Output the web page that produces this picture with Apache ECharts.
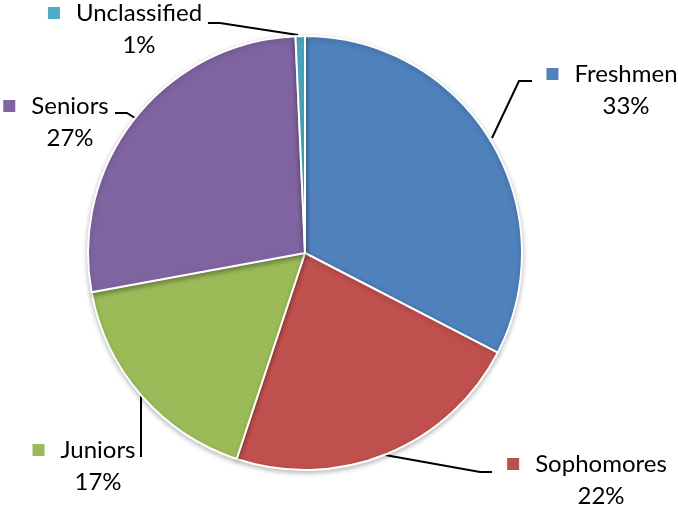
<!DOCTYPE html>
<html>
<head>
<meta charset="utf-8">
<script src="https://cdn.jsdelivr.net/npm/echarts@6/dist/echarts.min.js"></script>
<style>
html,body{margin:0;padding:0;background:#fff;}
#chart{width:678px;height:506px;}
</style>
</head>
<body>
<div id="chart"></div>
<script>
// ---- data ----
var categories = ['Freshmen', 'Sophomores', 'Juniors', 'Seniors', 'Unclassified'];
var values = [32.6, 22.5, 17.0, 27.2, 0.7];
var percentLabels = ['33%', '22%', '17%', '27%', '1%'];
var colors = ['#4F81BD', '#C0504D', '#9BBB59', '#8064A2', '#4BACC6'];

// ---- label layout (positions only) ----
var labelPos = [
  {x: 612, y: 90,  line: [[492,138],[519,81],[532,81]]},
  {x: 587, y: 480, line: [[385,455],[480,472],[492,472]]},
  {x: 84,  y: 466, line: [[141,394],[141,457],[141,457]]},
  {x: 56,  y: 122, line: [[135,118],[127,113],[115,113]]},
  {x: 125, y: 29,  line: [[298,35],[220,23],[208,23]]}
];

var FONT = 'Lato';
var FS = 24;
var rich = {
  n: {fontFamily: FONT, fontSize: FS, color: '#000', lineHeight: 32, padding: [0,0,0,16]},
  p: {fontFamily: FONT, fontSize: FS, color: '#000', lineHeight: 32, padding: [0,0,0,28]}
};
colors.forEach(function(c, i){
  rich['s' + i] = {width: 12, height: 12, backgroundColor: c, lineHeight: 32};
});

var chart = echarts.init(document.getElementById('chart'));
chart.setOption({
  animation: false,
  backgroundColor: '#fff',
  color: colors,
  series: [{
    type: 'pie',
    center: [305, 253],
    radius: 217,
    startAngle: 90,
    clockwise: true,
    avoidLabelOverlap: false,
    itemStyle: {borderColor: '#fff', borderWidth: 2, shadowBlur: 5, shadowColor: 'rgba(0,0,0,0.25)', shadowOffsetY: 2},
    label: {
      show: true,
      align: 'center',
      formatter: function(p){
        return '{s' + p.dataIndex + '| }{n|' + p.name + '}\n{p|' + percentLabels[p.dataIndex] + '}';
      },
      rich: rich
    },
    labelLine: {show: true, lineStyle: {color: '#000', width: 2}},
    labelLayout: function(params){
      var lp = labelPos[params.dataIndex];
      return {x: lp.x, y: lp.y, align: 'center', verticalAlign: 'middle', labelLinePoints: lp.line};
    },
    emphasis: {disabled: true},
    data: categories.map(function(c, i){ return {name: c, value: values[i]}; })
  }]
});
</script>
</body>
</html>
